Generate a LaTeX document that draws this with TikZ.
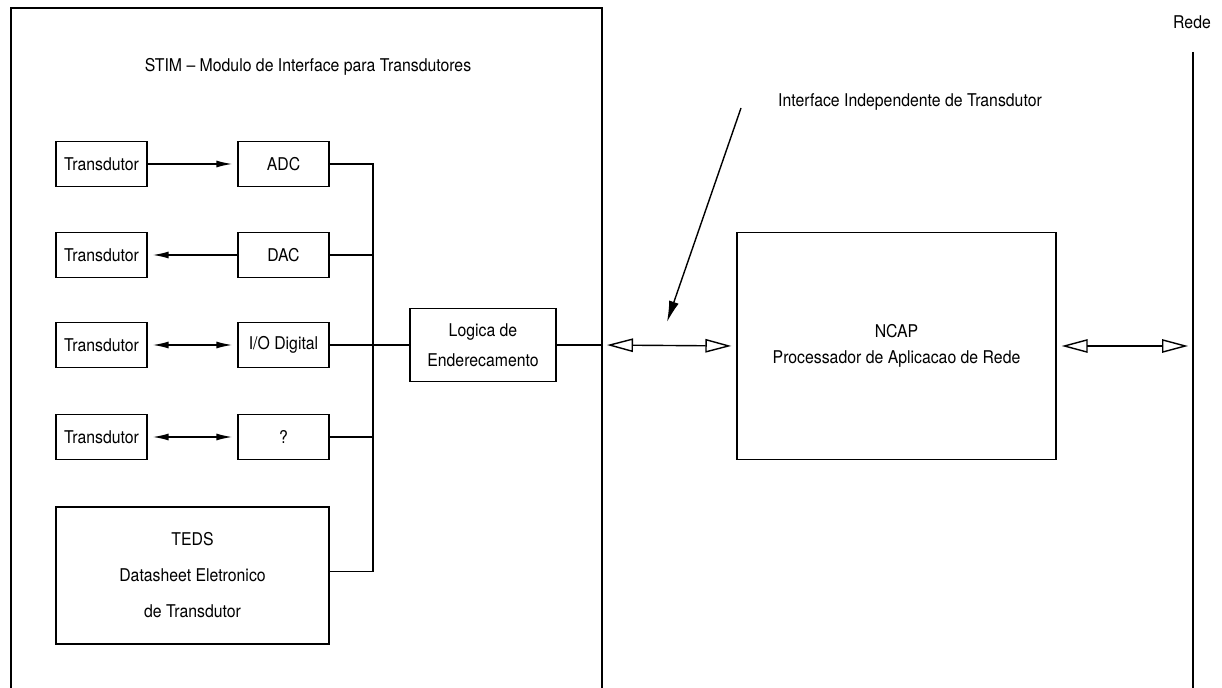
\documentclass[tikz,border=0pt]{standalone}
\usepackage{fontspec}
\setmainfont{TeX Gyre Heros}[FakeStretch=0.9]
\usetikzlibrary{calc}
\usetikzlibrary{arrows.meta}

\begin{document}
\begin{tikzpicture}[x=0.02cm,y=-0.02cm,line width=0.8pt,
  font=\fontsize{10}{11}\selectfont,
  bloco/.style={draw,minimum width=1.82cm,minimum height=0.9cm,inner sep=0pt},
  seta/.style={-{Latex[length=0.32cm,width=0.14cm]},shorten >=0.1cm},
  setadupla/.style={{Latex[length=0.32cm,width=0.14cm]}-{Latex[length=0.32cm,width=0.14cm]},shorten >=0.1cm,shorten <=0.1cm},
  setaaberta/.style={{Triangle[open,length=0.52cm,width=0.27cm]}-{Triangle[open,length=0.52cm,width=0.27cm]},shorten >=0.1cm,shorten <=0.1cm}]
  \useasboundingbox (0,0) rectangle (1222,688);

  % STIM
  \draw (11,688) -- (11,8) -- (602,8) -- (602,688);
  \coordinate (stimR) at (602,0);
  \node (stim) at (308,67) {STIM -- Modulo de Interface para Transdutores};

  % Transdutores
  \node[bloco] (tr1) at (101.5,164) {Transdutor};
  \node[bloco] (tr2) at (101.5,255) {Transdutor};
  \node[bloco] (tr3) at (101.5,345) {Transdutor};
  \node[bloco] (tr4) at (101.5,437) {Transdutor};

  % Conversores
  \node[bloco] (adc) at (283.5,164) {ADC};
  \node[bloco] (dac) at (283.5,255) {DAC};
  \node[bloco] (io) at (283.5,345) {I/O Digital};
  \node[bloco] (unk) at (283.5,437) {?};

  % TEDS
  \node[draw,minimum width=5.46cm,minimum height=2.74cm,align=center,
    font=\fontsize{10}{20.5}\selectfont] (teds) at (192.5,575.5)
    {TEDS\\Datasheet Eletronico\\de Transdutor};

  % Logica
  \node[draw,minimum width=2.92cm,minimum height=1.46cm,align=center,
    font=\fontsize{10}{17}\selectfont] (logica) at (483,345)
    {Logica de\\Enderecamento};

  % Ligacoes transdutor - conversor
  \draw[seta] (tr1) -- (adc);
  \draw[seta] (dac) -- (tr2);
  \draw[setadupla] (tr3) -- (io);
  \draw[setadupla] (tr4) -- (unk);

  % Barramento
  \coordinate (bus) at (373,0);
  \draw (adc.east) -- (adc.east -| bus) -- ($(teds.east -| bus)+(0,-4)$) -- ($(teds.east)+(0,-4)$);
  \draw (dac.east) -- (dac.east -| bus);
  \draw (io.east) -- (io.east -| bus);
  \draw (unk.east) -- (unk.east -| bus);
  \draw (logica.west -| bus) -- (logica.west);
  \draw (logica.east) -- (logica.east -| stimR);

  % NCAP
  \node[draw,minimum width=6.38cm,minimum height=4.54cm,align=center,
    font=\fontsize{10}{14.5}\selectfont] (ncap) at (896.5,346)
    {NCAP\\Processador de Aplicacao de Rede};

  % Rede
  \node (rede) at (1192,22) {Rede};
  \coordinate (redetop) at (1193,52);
  \coordinate (redebot) at (1193,688);
  \draw (redetop) -- (redebot);

  % Interfaces
  \draw[setaaberta] (logica.east -| stimR) -- (ncap.west);
  \draw[setaaberta] (ncap.east) -- (ncap.east -| redetop);

  \node (iface) at (910,102) {Interface Independente de Transdutor};
  \coordinate (ifaceA) at (741,108);
  \coordinate (ifaceB) at (667,322);
  \draw[-{Latex[length=0.42cm,width=0.2cm]}] (ifaceA) -- (ifaceB);

\end{tikzpicture}
\end{document}
